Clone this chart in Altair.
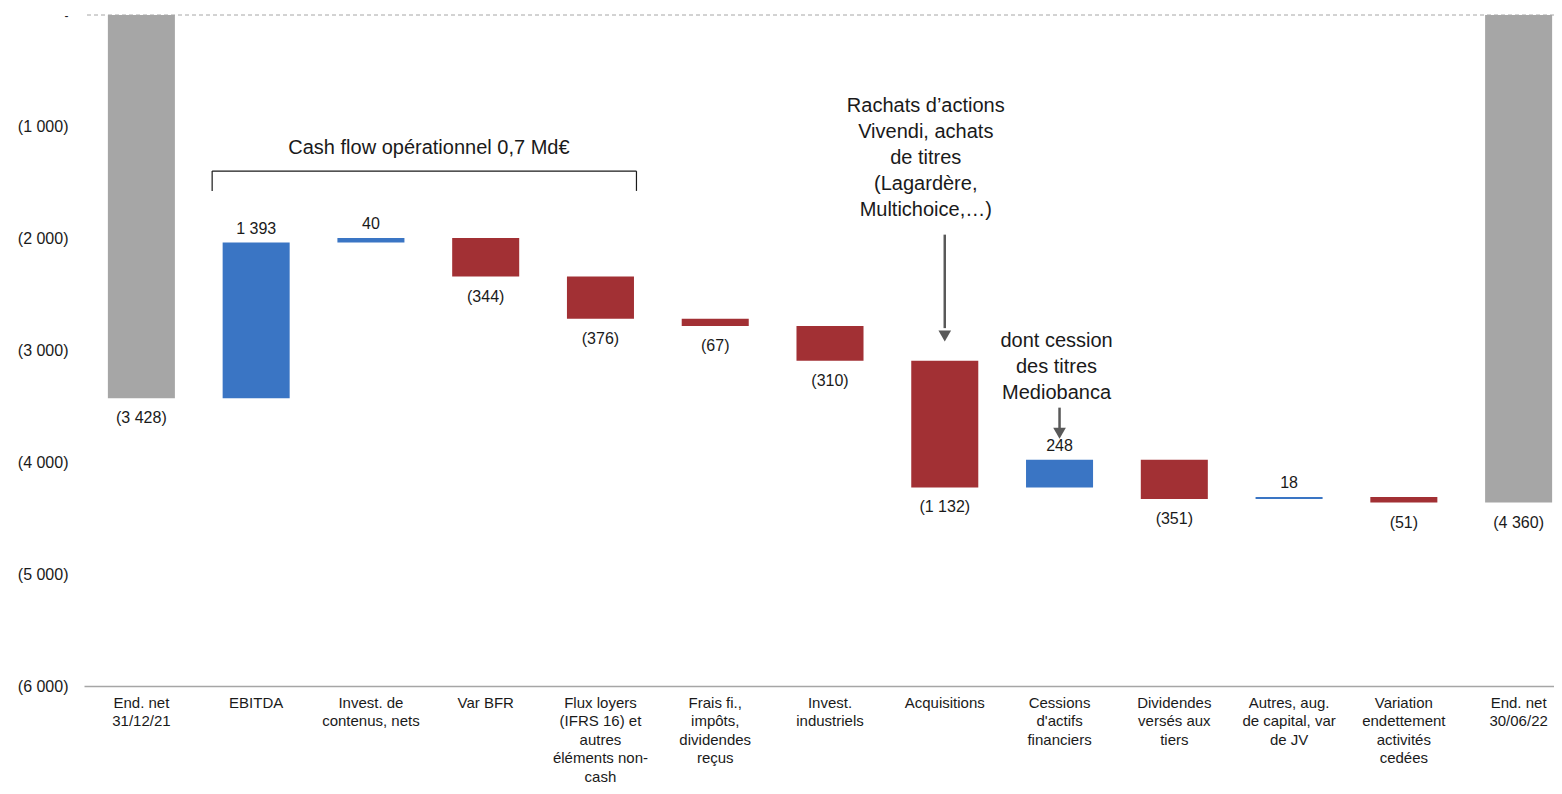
import altair as alt
import pandas as pd

# ---- data ----
categories = [
    "End. net|31/12/21",
    "EBITDA",
    "Invest. de|contenus, nets",
    "Var BFR",
    "Flux loyers|(IFRS 16) et|autres|éléments non-|cash",
    "Frais fi.,|impôts,|dividendes|reçus",
    "Invest.|industriels",
    "Acquisitions",
    "Cessions|d'actifs|financiers",
    "Dividendes|versés aux|tiers",
    "Autres, aug.|de capital, var|de JV",
    "Variation|endettement|activités|cedées",
    "End. net|30/06/22",
]
start_value = -3428
deltas = [1393, 40, -344, -376, -67, -310, -1132, 248, -351, 18, -51]
end_value = -4360

y_ticks = [-6000, -5000, -4000, -3000, -2000, -1000, 0]

bracket_text = "Cash flow opérationnel 0,7 Md€"
acq_text = "Rachats d’actions\nVivendi, achats\nde titres\n(Lagardère,\nMultichoice,…)"
med_text = "dont cession\ndes titres\nMediobanca"


def fmt(v):
    s = f"{abs(v):,}".replace(",", " ")
    return s if v > 0 else f"({s})"


rows = []
rows.append(dict(cat=categories[0], lo=start_value, hi=0, kind="total",
                 label=fmt(start_value), pos="below", anchor=start_value))
running = start_value
for cat, d in zip(categories[1:-1], deltas):
    new = running + d
    lo, hi = min(running, new), max(running, new)
    rows.append(dict(cat=cat, lo=lo, hi=hi, kind="up" if d > 0 else "down",
                     label=fmt(d), pos="above" if d > 0 else "below",
                     anchor=hi if d > 0 else lo))
    running = new
rows.append(dict(cat=categories[-1], lo=end_value, hi=0, kind="total",
                 label=fmt(end_value), pos="below", anchor=end_value))
df = pd.DataFrame(rows)

FONT = "Liberation Sans"
TXT = "#1a1a1a"

xscale = alt.Scale(domain=categories, range=[0, 1492], paddingInner=0.416, paddingOuter=0.208)
yscale = alt.Scale(domain=[-6000, 0], nice=False, zero=False)

x_axis = alt.Axis(
    title=None, labelAngle=0, ticks=False, domain=True, domainColor="#a6a6a6",
    domainWidth=1.5, labelExpr="split(datum.value, '|')", labelFontSize=15,
    labelLineHeight=18.5, labelPadding=9, labelColor=TXT, labelFont=FONT,
    labelLimit=400, grid=False,
)
y_axis = alt.Axis(
    title=None, values=y_ticks, ticks=False, domain=False, grid=False,
    labelExpr="datum.value == 0 ? '-\u2003' : '(' + replace(format(-datum.value, ','), ',', ' ') + ')'",
    labelFontSize={"condition": {"test": "datum.value == 0", "value": 12}, "value": 16},
    labelPadding=16, labelColor=TXT, labelFont=FONT,
)


def X():
    return alt.X("cat:N", scale=xscale, axis=x_axis)


def Y(field):
    return alt.Y(field, scale=yscale, axis=y_axis)


zero_line = alt.Chart(pd.DataFrame({"y": [0]})).mark_rule(
    color="#a6a6a6", strokeDash=[4, 3], strokeWidth=1
).encode(y=Y("y:Q"))

bars = alt.Chart(df).mark_bar().encode(
    x=X(),
    y=Y("lo:Q"),
    y2="hi:Q",
    color=alt.Color("kind:N", scale=alt.Scale(domain=["total", "up", "down"],
                    range=["#a6a6a6", "#3a75c4", "#a23034"]), legend=None),
)

labels_above = alt.Chart(df).transform_filter("datum.pos == 'above'").mark_text(
    dy=-14, fontSize=16, font=FONT, color=TXT, baseline="middle"
).encode(x=X(), y=Y("anchor:Q"), text="label:N")

labels_below = alt.Chart(df).transform_filter("datum.pos == 'below'").mark_text(
    dy=20, fontSize=16, font=FONT, color=TXT, baseline="middle"
).encode(x=X(), y=Y("anchor:Q"), text="label:N")

# bracket for operating cash flow
br_h = alt.Chart(pd.DataFrame({"cat": [categories[1]], "cat2": [categories[4]], "y": [-1396]})).mark_rule(
    color="#1a1a1a", strokeWidth=1.2, xOffset=-44, x2Offset=36
).encode(x=X(), x2="cat2:N", y=Y("y:Q"))
br_l = alt.Chart(pd.DataFrame({"cat": [categories[1]], "y": [-1396], "y2": [-1573]})).mark_rule(
    color="#1a1a1a", strokeWidth=1.2, xOffset=-44
).encode(x=X(), y=Y("y:Q"), y2="y2:Q")
br_r = alt.Chart(pd.DataFrame({"cat": [categories[4]], "y": [-1396], "y2": [-1573]})).mark_rule(
    color="#1a1a1a", strokeWidth=1.2, xOffset=36
).encode(x=X(), y=Y("y:Q"), y2="y2:Q")

br_text = alt.Chart(pd.DataFrame({"cat": [categories[2]], "y": [-1244], "t": [bracket_text]})).mark_text(
    fontSize=20, font=FONT, color=TXT, dx=58, baseline="alphabetic"
).encode(x=X(), y=Y("y:Q"), text="t:N")

acq_label = alt.Chart(pd.DataFrame({"cat": [categories[7]], "y": [-871], "t": [acq_text]})).mark_text(
    fontSize=20, font=FONT, color=TXT, dx=-19, baseline="alphabetic", lineBreak="\n", lineHeight=26
).encode(x=X(), y=Y("y:Q"), text="t:N")

med_label = alt.Chart(pd.DataFrame({"cat": [categories[8]], "y": [-2969], "t": [med_text]})).mark_text(
    fontSize=20, font=FONT, color=TXT, dx=-3, baseline="alphabetic", lineBreak="\n", lineHeight=26
).encode(x=X(), y=Y("y:Q"), text="t:N")

ARROW = "#595959"
arrow_lines = alt.Chart(pd.DataFrame({
    "cat": [categories[7], categories[8]],
    "y": [-1964, -3511], "y2": [-2800, -3700],
})).mark_rule(color=ARROW, strokeWidth=2.5).encode(
    x=X(), y=Y("y:Q"), y2="y2:Q"
)
arrow_heads = alt.Chart(pd.DataFrame({
    "cat": [categories[7], categories[8]],
    "y": [-2870, -3740],
})).mark_point(shape="triangle-down", filled=True, color=ARROW, size=160, opacity=1).encode(
    x=X(), y=Y("y:Q")
)

chart = alt.layer(
    zero_line, bars, labels_above, labels_below, br_h, br_l, br_r, br_text,
    acq_label, med_label, arrow_lines, arrow_heads,
).properties(
    width=1470, height=671,
    padding={"left": 76, "top": 7, "right": 0, "bottom": 100},
    autosize=alt.AutoSizeParams(type="none"),
).configure(font=FONT).configure_view(strokeWidth=0, stroke="transparent")

chart.save("out.html", embed_options={"renderer": "svg", "actions": False})
